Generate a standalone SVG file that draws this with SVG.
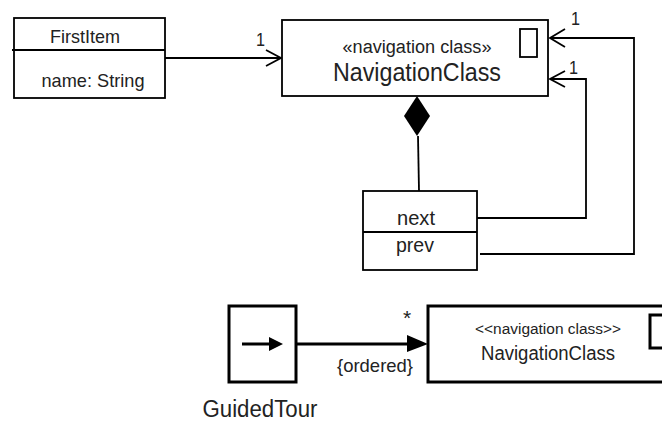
<svg xmlns="http://www.w3.org/2000/svg" width="662" height="423" viewBox="0 0 662 423">
<defs>
<style>
text{font-family:"Liberation Sans",Arial,sans-serif;fill:#222;}
.c{text-anchor:middle;}
.thin{fill:none;stroke:#000;stroke-width:1.8;}
.thick{fill:none;stroke:#000;stroke-width:3;}
.box{fill:#fff;stroke:#000;stroke-width:1.8;}
.tbox{fill:#fff;stroke:#000;stroke-width:3;}
</style>
</defs>
<rect width="662" height="423" fill="#fff"/>
<g id="connectors">
<line class="thin" x1="165" y1="58" x2="281" y2="58"/>
<polyline class="thin" points="266,50 281,58 266,66"/>
<text x="256" y="46" font-size="19" textLength="9" lengthAdjust="spacingAndGlyphs">1</text>
<polygon points="417,96 430,116 417,136 404,116" fill="#000"/>
<line class="thin" x1="418" y1="136" x2="419" y2="191"/>
<polyline class="thin" points="474,218 586,218 586,79 550,79"/>
<polyline class="thin" points="565,71 550,79 565,87"/>
<text x="569" y="74" font-size="19" textLength="9" lengthAdjust="spacingAndGlyphs">1</text>
<polyline class="thin" points="480,254 634,254 634,38 550,38"/>
<polyline class="thin" points="565,29 550,38 565,47"/>
<text x="571" y="25" font-size="19" textLength="9" lengthAdjust="spacingAndGlyphs">1</text>
<line class="thick" x1="296" y1="344" x2="410" y2="344"/>
<polygon points="407,335 428,344 407,352" fill="#000"/>
<text class="c" x="407" y="325" font-size="21">*</text>
<text class="c" x="375" y="372" font-size="19" textLength="76" lengthAdjust="spacingAndGlyphs">{ordered}</text>
</g>
<g id="firstitem">
<rect class="box" x="14" y="18" width="151" height="80"/>
<line class="thin" x1="12" y1="50" x2="165" y2="50"/>
<text class="c" x="85" y="43" font-size="19" textLength="70" lengthAdjust="spacingAndGlyphs">FirstItem</text>
<text class="c" x="93" y="87" font-size="19" textLength="103" lengthAdjust="spacingAndGlyphs">name: String</text>
</g>
<g id="navclass">
<rect class="box" x="282" y="20" width="266" height="76"/>
<rect class="box" x="520" y="29" width="17" height="28"/>
<text class="c" x="417" y="53" font-size="18" textLength="149" lengthAdjust="spacingAndGlyphs">«navigation class»</text>
<text class="c" x="417" y="81" font-size="26" textLength="168" lengthAdjust="spacingAndGlyphs">NavigationClass</text>
</g>
<g id="nextprev">
<rect class="box" x="363" y="191" width="114" height="79"/>
<line class="thin" x1="363" y1="232" x2="477" y2="232"/>
<text class="c" x="416" y="225" font-size="21" textLength="38" lengthAdjust="spacingAndGlyphs">next</text>
<text class="c" x="415" y="252" font-size="21" textLength="38" lengthAdjust="spacingAndGlyphs">prev</text>
</g>
<g id="guidedtour">
<rect class="tbox" x="229" y="306" width="67" height="76"/>
<line class="thick" x1="242" y1="344" x2="272" y2="344"/>
<polygon points="269,337 283,344 269,351" fill="#000"/>
<text class="c" x="260" y="417" font-size="23" textLength="115" lengthAdjust="spacingAndGlyphs">GuidedTour</text>
</g>
<g id="navclass2">
<rect class="tbox" x="428" y="306" width="250" height="76"/>
<rect class="tbox" x="650" y="315" width="20" height="33"/>
<text class="c" x="548" y="334" font-size="15.5" textLength="146" lengthAdjust="spacingAndGlyphs">&lt;&lt;navigation class&gt;&gt;</text>
<text class="c" x="548" y="360" font-size="19.5" textLength="134" lengthAdjust="spacingAndGlyphs">NavigationClass</text>
</g>
</svg>
